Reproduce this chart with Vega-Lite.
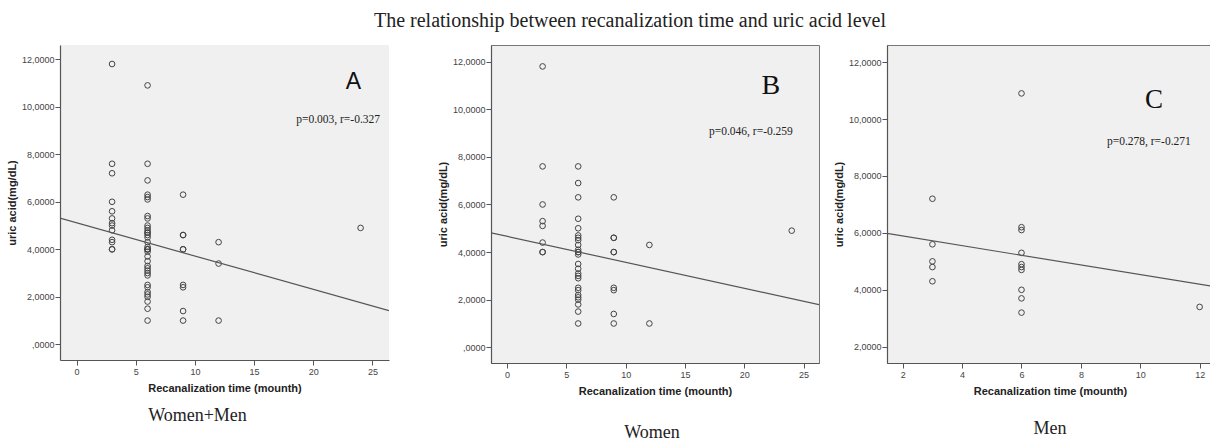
{
  "$schema": "https://vega.github.io/schema/vega-lite/v6.json",
  "background": "white",
  "padding": {"left": 6, "top": 10, "right": 0, "bottom": 0},
  "title": {"text": "The relationship between recanalization time and uric acid level", "font": "Liberation Serif", "fontSize": 20, "fontWeight": "normal", "color": "#222", "anchor": "middle", "offset": 14, "dx": 20},
  "datasets": {
    "points": [
      {"s": "W", "t": 3, "ua": 11.8}, {"s": "W", "t": 3, "ua": 7.6}, {"s": "W", "t": 3, "ua": 6.0}, {"s": "W", "t": 3, "ua": 5.3}, {"s": "W", "t": 3, "ua": 5.1}, {"s": "W", "t": 3, "ua": 4.4}, {"s": "W", "t": 3, "ua": 4.0}, {"s": "W", "t": 3, "ua": 4.0},
      {"s": "W", "t": 6, "ua": 7.6}, {"s": "W", "t": 6, "ua": 6.9}, {"s": "W", "t": 6, "ua": 6.3}, {"s": "W", "t": 6, "ua": 5.4}, {"s": "W", "t": 6, "ua": 5.0}, {"s": "W", "t": 6, "ua": 4.7}, {"s": "W", "t": 6, "ua": 4.6}, {"s": "W", "t": 6, "ua": 4.5}, {"s": "W", "t": 6, "ua": 4.3}, {"s": "W", "t": 6, "ua": 4.1}, {"s": "W", "t": 6, "ua": 4.0}, {"s": "W", "t": 6, "ua": 4.0}, {"s": "W", "t": 6, "ua": 3.9}, {"s": "W", "t": 6, "ua": 3.5}, {"s": "W", "t": 6, "ua": 3.3}, {"s": "W", "t": 6, "ua": 3.1}, {"s": "W", "t": 6, "ua": 3.0}, {"s": "W", "t": 6, "ua": 2.9}, {"s": "W", "t": 6, "ua": 2.5}, {"s": "W", "t": 6, "ua": 2.4}, {"s": "W", "t": 6, "ua": 2.2}, {"s": "W", "t": 6, "ua": 2.1}, {"s": "W", "t": 6, "ua": 2.0}, {"s": "W", "t": 6, "ua": 1.8}, {"s": "W", "t": 6, "ua": 1.5}, {"s": "W", "t": 6, "ua": 1.0},
      {"s": "W", "t": 9, "ua": 6.3}, {"s": "W", "t": 9, "ua": 4.6}, {"s": "W", "t": 9, "ua": 4.6}, {"s": "W", "t": 9, "ua": 4.0}, {"s": "W", "t": 9, "ua": 4.0}, {"s": "W", "t": 9, "ua": 2.5}, {"s": "W", "t": 9, "ua": 2.4}, {"s": "W", "t": 9, "ua": 1.4}, {"s": "W", "t": 9, "ua": 1.0},
      {"s": "W", "t": 12, "ua": 4.3}, {"s": "W", "t": 12, "ua": 1.0},
      {"s": "W", "t": 24, "ua": 4.9},
      {"s": "M", "t": 3, "ua": 7.2}, {"s": "M", "t": 3, "ua": 5.6}, {"s": "M", "t": 3, "ua": 5.0}, {"s": "M", "t": 3, "ua": 4.8}, {"s": "M", "t": 3, "ua": 4.3},
      {"s": "M", "t": 6, "ua": 10.9}, {"s": "M", "t": 6, "ua": 6.2}, {"s": "M", "t": 6, "ua": 6.1}, {"s": "M", "t": 6, "ua": 5.3}, {"s": "M", "t": 6, "ua": 4.9}, {"s": "M", "t": 6, "ua": 4.8}, {"s": "M", "t": 6, "ua": 4.7}, {"s": "M", "t": 6, "ua": 4.0}, {"s": "M", "t": 6, "ua": 3.7}, {"s": "M", "t": 6, "ua": 3.2},
      {"s": "M", "t": 12, "ua": 3.4}
    ],
    "lines": [
      {"panel": "A", "t": -1.4, "ua": 5.31}, {"panel": "A", "t": 26.4, "ua": 1.42},
      {"panel": "B", "t": -1.35, "ua": 4.81}, {"panel": "B", "t": 26.3, "ua": 1.79},
      {"panel": "C", "t": 1.47, "ua": 5.98}, {"panel": "C", "t": 12.45, "ua": 4.12}
    ]
  },
  "spacing": 12,
  "hconcat": [
    {
      "bounds": "flush",
      "spacing": 102,
      "hconcat": [
        {
          "width": 329, "height": 315,
          "view": {"fill": "#f0f0f0", "stroke": null},
          "title": {"text": "Women+Men", "orient": "bottom", "font": "Liberation Serif", "fontSize": 18, "fontWeight": "normal", "color": "#222", "offset": 14, "dx": -27},
          "layer": [
            {
              "data": {"name": "points"},
              "mark": {"type": "point", "shape": "circle", "filled": false, "size": 32, "stroke": "#444", "strokeWidth": 1, "opacity": 1},
              "encoding": {
                "x": {"field": "t", "type": "quantitative", "scale": {"domain": [-1.4, 26.4], "nice": false, "zero": false}, "axis": {"title": "Recanalization time (mounth)", "values": [0, 5, 10, 15, 20, 25]}},
                "y": {"field": "ua", "type": "quantitative", "scale": {"domain": [-0.66, 12.6], "nice": false, "zero": false}, "axis": {"title": "uric acid(mg/dL)", "values": [0, 2, 4, 6, 8, 10, 12], "labelExpr": "datum.value == 0 ? ',0000' : replace(format(datum.value, '.4f'), '.', ',')"}}
              }
            },
            {
              "data": {"name": "lines"},
              "transform": [{"filter": "datum.panel == 'A'"}],
              "mark": {"type": "line", "clip": true, "stroke": "#555", "strokeWidth": 1.2},
              "encoding": {"x": {"field": "t", "type": "quantitative"}, "y": {"field": "ua", "type": "quantitative"}}
            },
            {
              "data": {"values": [{}]},
              "mark": {"type": "text", "text": "A", "font": "Liberation Sans", "fontSize": 23, "align": "center", "baseline": "middle", "color": "#111"},
              "encoding": {"x": {"datum": 23.4}, "y": {"datum": 11.06}}
            },
            {
              "data": {"values": [{}]},
              "mark": {"type": "text", "text": "p=0.003, r=-0.327", "font": "Liberation Serif", "fontSize": 11.5, "align": "center", "baseline": "middle", "color": "#222"},
              "encoding": {"x": {"datum": 22.1}, "y": {"datum": 9.44}}
            }
          ]
        },
        {
          "width": 328, "height": 318,
          "view": {"fill": "#f0f0f0", "stroke": "#777"},
          "title": {"text": "Women", "orient": "bottom", "font": "Liberation Serif", "fontSize": 18, "fontWeight": "normal", "color": "#222", "offset": 28, "dx": -3},
          "layer": [
            {
              "data": {"name": "points"},
              "transform": [{"filter": "datum.s == 'W'"}],
              "mark": {"type": "point", "shape": "circle", "filled": false, "size": 32, "stroke": "#444", "strokeWidth": 1, "opacity": 1},
              "encoding": {
                "x": {"field": "t", "type": "quantitative", "scale": {"domain": [-1.35, 26.3], "nice": false, "zero": false}, "axis": {"title": "Recanalization time (mounth)", "values": [0, 5, 10, 15, 20, 25]}},
                "y": {"field": "ua", "type": "quantitative", "scale": {"domain": [-0.66, 12.7], "nice": false, "zero": false}, "axis": {"title": "uric acid(mg/dL)", "values": [0, 2, 4, 6, 8, 10, 12], "labelExpr": "datum.value == 0 ? ',0000' : replace(format(datum.value, '.4f'), '.', ',')"}}
              }
            },
            {
              "data": {"name": "lines"},
              "transform": [{"filter": "datum.panel == 'B'"}],
              "mark": {"type": "line", "clip": true, "stroke": "#555", "strokeWidth": 1.2},
              "encoding": {"x": {"field": "t", "type": "quantitative"}, "y": {"field": "ua", "type": "quantitative"}}
            },
            {
              "data": {"values": [{}]},
              "mark": {"type": "text", "text": "B", "font": "Liberation Serif", "fontSize": 28, "align": "center", "baseline": "middle", "color": "#111"},
              "encoding": {"x": {"datum": 22.24}, "y": {"datum": 10.99}}
            },
            {
              "data": {"values": [{}]},
              "mark": {"type": "text", "text": "p=0.046, r=-0.259", "font": "Liberation Serif", "fontSize": 11.5, "align": "center", "baseline": "middle", "color": "#222"},
              "encoding": {"x": {"datum": 20.56}, "y": {"datum": 9.05}}
            }
          ]
        }
      ]
    },
    {
      "width": 326, "height": 318,
      "view": {"fill": "#f0f0f0", "stroke": "#777"},
      "title": {"text": "Men", "orient": "bottom", "font": "Liberation Serif", "fontSize": 18, "fontWeight": "normal", "color": "#222", "offset": 24, "dx": 0},
      "layer": [
        {
          "data": {"name": "points"},
          "transform": [{"filter": "datum.s == 'M'"}],
          "mark": {"type": "point", "shape": "circle", "filled": false, "size": 32, "stroke": "#444", "strokeWidth": 1, "opacity": 1},
          "encoding": {
            "x": {"field": "t", "type": "quantitative", "scale": {"domain": [1.47, 12.45], "nice": false, "zero": false}, "axis": {"title": "Recanalization time (mounth)", "values": [2, 4, 6, 8, 10, 12]}},
            "y": {"field": "ua", "type": "quantitative", "scale": {"domain": [1.43, 12.6], "nice": false, "zero": false}, "axis": {"title": "uric acid(mg/dL)", "values": [2, 4, 6, 8, 10, 12], "labelExpr": "datum.value == 0 ? ',0000' : replace(format(datum.value, '.4f'), '.', ',')"}}
          }
        },
        {
          "data": {"name": "lines"},
          "transform": [{"filter": "datum.panel == 'C'"}],
          "mark": {"type": "line", "clip": true, "stroke": "#555", "strokeWidth": 1.2},
          "encoding": {"x": {"field": "t", "type": "quantitative"}, "y": {"field": "ua", "type": "quantitative"}}
        },
        {
          "data": {"values": [{}]},
          "mark": {"type": "text", "text": "C", "font": "Liberation Serif", "fontSize": 27, "align": "center", "baseline": "middle", "color": "#111"},
          "encoding": {"x": {"datum": 10.46}, "y": {"datum": 10.67}}
        },
        {
          "data": {"values": [{}]},
          "mark": {"type": "text", "text": "p=0.278, r=-0.271", "font": "Liberation Serif", "fontSize": 11.5, "align": "center", "baseline": "middle", "color": "#222"},
          "encoding": {"x": {"datum": 10.29}, "y": {"datum": 9.19}}
        }
      ]
    }
  ],
  "config": {
    "view": {"fill": "#f0f0f0", "stroke": null},
    "axis": {
      "grid": false,
      "domainColor": "#555",
      "domainWidth": 1.2,
      "tickColor": "#555",
      "tickSize": 5,
      "labelFont": "Liberation Sans",
      "labelFontSize": 9,
      "labelColor": "#444",
      "titleFont": "Liberation Sans",
      "titleFontSize": 11,
      "titleFontWeight": "bold",
      "titleColor": "#222"
    },
    "axisX": {"labelPadding": 2, "titlePadding": 6},
    "axisY": {"labelPadding": 1, "titlePadding": 4}
  }
}
